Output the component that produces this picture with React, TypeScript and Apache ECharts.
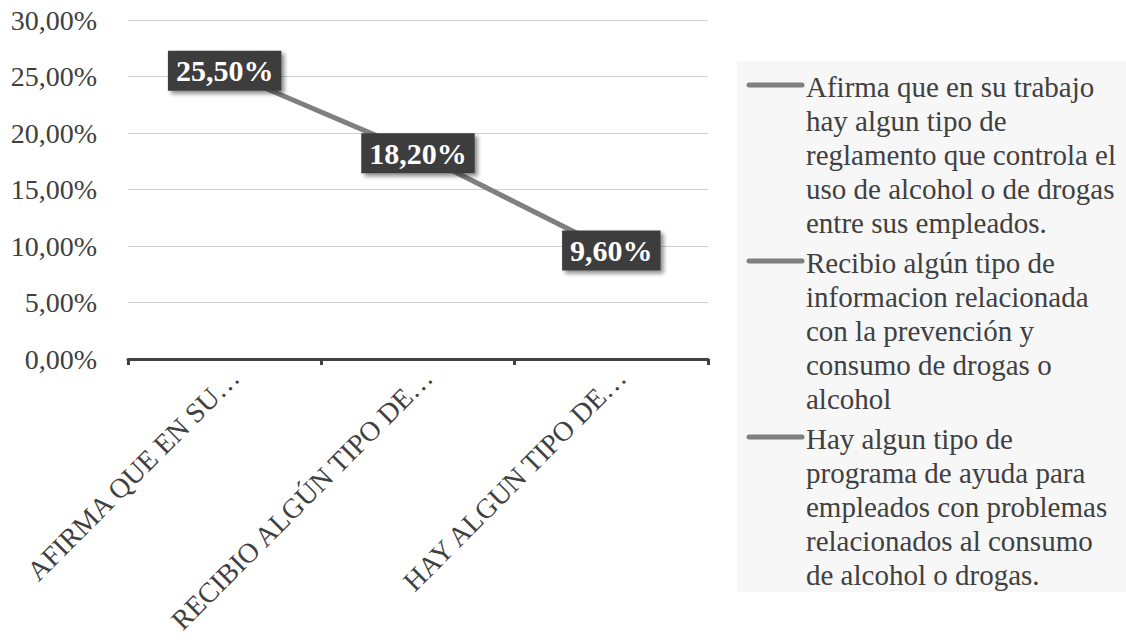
import React, { useEffect, useRef } from "react";
import * as echarts from "echarts";

const categoryLabels = ["AFIRMA QUE EN SU…", "RECIBIO ALGÚN TIPO DE…", "HAY ALGUN TIPO DE…"];
const values = [25.5, 18.2, 9.6];
const yMin = 0;
const yMax = 30;
const yInterval = 5;
const legendLines = [
  ["Afirma que en su trabajo", "hay algun tipo de", "reglamento que controla el", "uso de alcohol o de drogas", "entre sus empleados."],
  ["Recibio algún tipo de", "informacion relacionada", "con la prevención y", "consumo de drogas o", "alcohol"],
  ["Hay algun tipo de", "programa de ayuda para", "empleados con problemas", "relacionados al consumo", "de alcohol o drogas."],
];

const FONT = "'Liberation Serif', 'Times New Roman', serif";
const TEXT = "#404040";
const LINE = "#7f7f7f";

const fmt = (v: number) => v.toFixed(2).replace(".", ",") + "%";

export default function App() {
  const ref = useRef<HTMLDivElement>(null);
  useEffect(() => {
    document.body.style.margin = "0";
    if (!ref.current) return;
    const chart = echarts.init(ref.current, undefined, { renderer: "svg" });

    const legendTop = 61;
    const firstLineCenter = 87;
    const lineH = 34;
    const itemGap = 40;
    const graphics: any[] = [
      {
        type: "rect",
        shape: { x: 737, y: legendTop, width: 389, height: 531 },
        style: { fill: "#f7f7f7" },
        silent: true,
      },
    ];
    let cy = firstLineCenter;
    legendLines.forEach((lines) => {
      graphics.push({
        type: "line",
        shape: { x1: 749, y1: cy - 2, x2: 802, y2: cy - 2 },
        style: { stroke: LINE, lineWidth: 5, lineCap: "round" },
        silent: true,
      });
      graphics.push({
        type: "text",
        x: 806,
        y: cy - lineH / 2,
        style: {
          text: lines.join("\n"),
          fontSize: 29,
          fontFamily: FONT,
          lineHeight: lineH,
          fill: TEXT,
          verticalAlign: "top",
          align: "left",
        },
        silent: true,
      });
      cy += (lines.length - 1) * lineH + itemGap;
    });

    chart.setOption({
      animation: false,
      backgroundColor: "#ffffff",
      grid: { left: 128, right: 418, top: 20, bottom: 284 },
      xAxis: {
        type: "category",
        data: categoryLabels,
        boundaryGap: true,
        axisLine: { show: true, lineStyle: { color: TEXT, width: 3 } },
        axisTick: { show: true, length: 6, lineStyle: { color: TEXT, width: 3 } },
        axisLabel: {
          rotate: 45,
          interval: 0,
          margin: 4,
          verticalAlign: "top",
          color: TEXT,
          fontSize: 28,
          fontFamily: FONT,
        },
        splitLine: { show: false },
      },
      yAxis: {
        type: "value",
        min: yMin,
        max: yMax,
        interval: yInterval,
        axisLine: { show: false },
        axisTick: { show: false },
        axisLabel: {
          margin: 31,
          color: TEXT,
          fontSize: 28,
          fontFamily: FONT,
          formatter: (v: number) => fmt(v),
        },
        splitLine: { show: true, lineStyle: { color: "#d0d0d0", width: 1 } },
      },
      series: [
        {
          name: legendLines[0].join(" "),
          type: "line",
          data: values,
          symbol: "circle",
          symbolSize: 2,
          itemStyle: { color: LINE },
          lineStyle: { color: LINE, width: 5 },
          label: {
            show: true,
            position: "inside",
            formatter: (p: any) => fmt(p.value),
            color: "#ffffff",
            fontWeight: "bold",
            fontSize: 30,
            fontFamily: FONT,
            backgroundColor: "#3c3c3c",
            padding: [6, 8, 4, 8],
            shadowColor: "rgba(0,0,0,0.45)",
            shadowBlur: 4,
            shadowOffsetX: 3,
            shadowOffsetY: 3,
          },
          z: 3,
        },
      ],
      graphic: graphics,
    });
    return () => chart.dispose();
  }, []);
  return <div ref={ref} style={{ width: 1126, height: 643 }} />;
}
